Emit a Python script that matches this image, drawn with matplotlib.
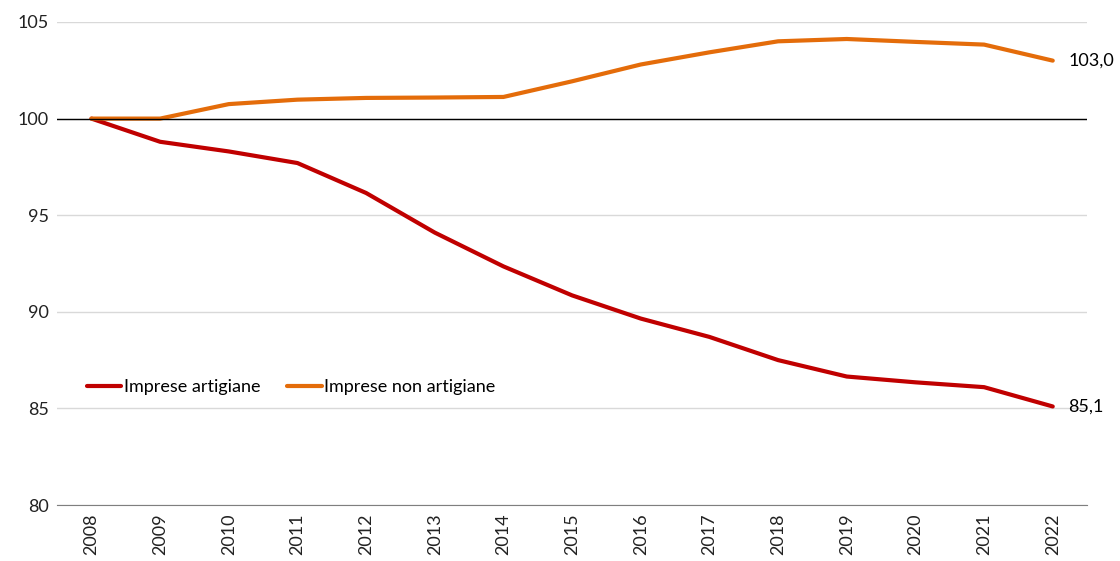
import matplotlib.pyplot as plt

anni = [str(a) for a in range(2008, 2023)]
artigiane = [100.0, 98.8, 98.3, 97.7, 96.15, 94.1, 92.35, 90.85, 89.65, 88.7, 87.5,
             86.65, 86.35, 86.1, 85.1]
non_artigiane = [100.0, 100.0, 100.75, 100.98, 101.07, 101.09, 101.12, 101.93, 102.8,
                 103.43, 104.0, 104.12, 103.97, 103.83, 103.0]

ROSSO = '#C00000'
ARANCIO = '#E46C0A'

plt.rcParams['font.family'] = ['Lato', 'DejaVu Sans']

fig = plt.figure(figsize=(11.2, 5.61), dpi=100)
ax = fig.add_axes([0.051, 0.0998, 0.9196, 0.861])

x = range(len(anni))
ax.plot(x, artigiane, color=ROSSO, lw=3, label='Imprese artigiane', solid_capstyle='round')
ax.plot(x, non_artigiane, color=ARANCIO, lw=3, label='Imprese non artigiane', solid_capstyle='round')

ax.set_xlim(-0.5, len(anni) - 0.5)
ax.set_ylim(80, 105)
ax.set_yticks([80, 85, 90, 95, 100, 105])
ax.set_xticks(list(x))
ax.set_xticklabels(anni, rotation=90)
ax.tick_params(length=0, labelsize=13, colors='#222222')
ax.tick_params(axis='y', pad=6)
ax.tick_params(axis='x', pad=6)

ax.grid(axis='y', color='#D9D9D9', lw=1)
ax.axhline(100, color='black', lw=1)
ax.set_axisbelow(True)
for s in ['top', 'right', 'left']:
    ax.spines[s].set_visible(False)
ax.spines['bottom'].set_color('#7F7F7F')

# etichette sull'ultimo valore
for serie in (non_artigiane, artigiane):
    ax.annotate(f'{serie[-1]:.1f}'.replace('.', ','), (len(anni) - 1, serie[-1]),
                xytext=(11, 0), textcoords='offset points', va='center', fontsize=13)

ax.legend(loc='center left', bbox_to_anchor=(0.013, 0.244), ncol=2, frameon=False,
          fontsize=13, handlelength=1.9, handletextpad=0.15, columnspacing=1.5)

fig.savefig('out.png', dpi=100)
